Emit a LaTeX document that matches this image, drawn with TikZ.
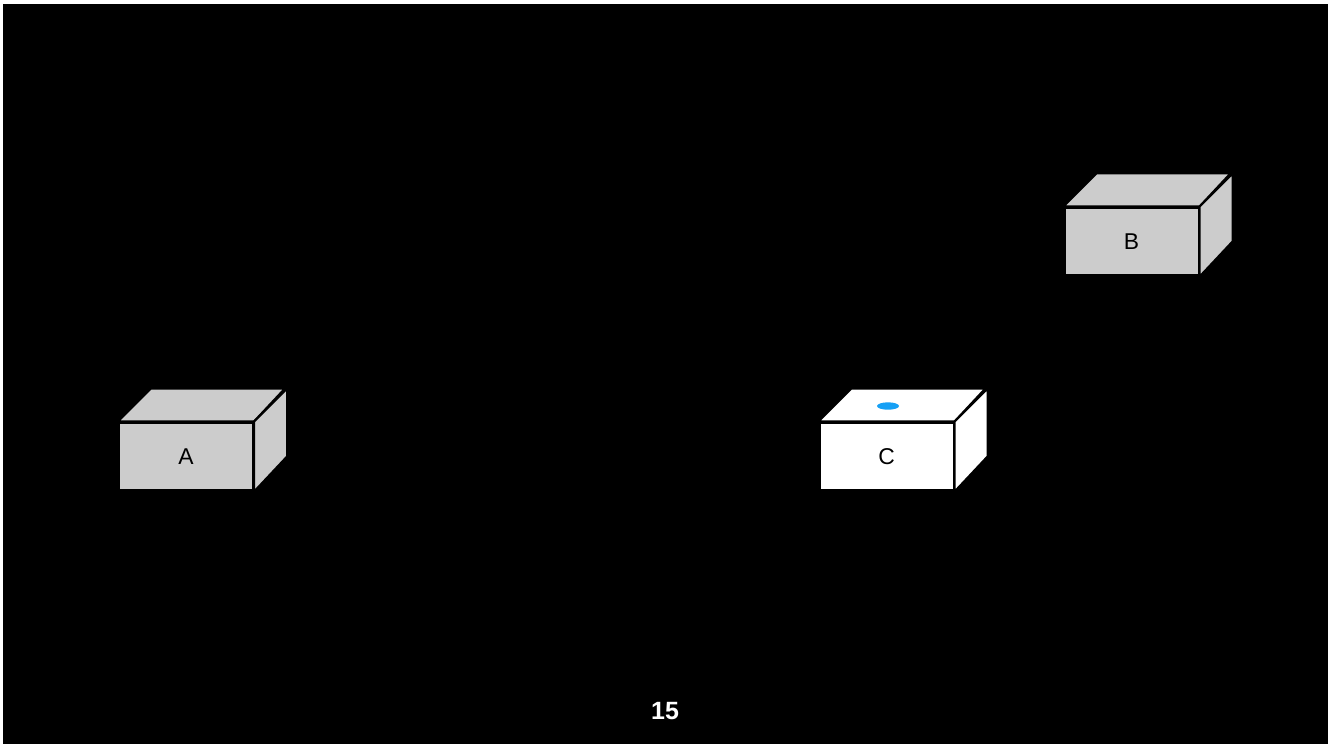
\documentclass[tikz,border=0pt]{standalone}
\usepackage{fontspec}
\setmainfont{Liberation Sans}
\usetikzlibrary{positioning, calc}
\definecolor{BoxGray} {RGB}{204, 204, 204}
\definecolor{DotBlue} {RGB}{22,  160, 245}

\begin{document}
\begin{tikzpicture}[
  x=0.01cm, y=-0.01cm,
  cube/.style = {
    rectangle, draw=black, line width=0.6pt,
    minimum width=1.34cm, minimum height=0.68cm,
    inner sep=0pt, font=\fontsize{6.5}{8}\selectfont
  },
  face/.style = {draw=black, line width=0.6pt, line join=miter}
]

% Slide background
\fill[white] (0,0) rectangle (1328,744);
\fill[black] (3,4) rectangle (1328,744);
\useasboundingbox (0,0) rectangle (1328,744);

% Box A
\node[cube, fill=BoxGray] (boxa) at (186,456.5) {A};
\draw[face, fill=BoxGray] (boxa.north west) -- ++(33,-33) -- ++(134,0)
  -- (boxa.north east) -- cycle;
\draw[face, fill=BoxGray] (boxa.north east) -- ++(33,-33) -- ++(0,68)
  -- (boxa.south east) -- cycle;

% Box B
\node[cube, fill=BoxGray] (boxb) at (1131.5,241.5) {B};
\draw[face, fill=BoxGray] (boxb.north west) -- ++(33,-33) -- ++(134,0)
  -- (boxb.north east) -- cycle;
\draw[face, fill=BoxGray] (boxb.north east) -- ++(33,-33) -- ++(0,68)
  -- (boxb.south east) -- cycle;

% Box C (white, with dot on top)
\node[cube, fill=white] (boxc) at (886.5,456.5) {C};
\draw[face, fill=white] (boxc.north west) -- ++(33,-33) -- ++(134,0)
  -- (boxc.north east) -- cycle;
\draw[face, fill=white] (boxc.north east) -- ++(33,-33) -- ++(0,68)
  -- (boxc.south east) -- cycle;
\fill[DotBlue] (888,406) ellipse [x radius=11, y radius=3.7];

% Page number
\node[font=\bfseries\fontsize{7.1}{8}\selectfont, text=white] (pagenum)
  at (665,711) {15};

\end{tikzpicture}
\end{document}
